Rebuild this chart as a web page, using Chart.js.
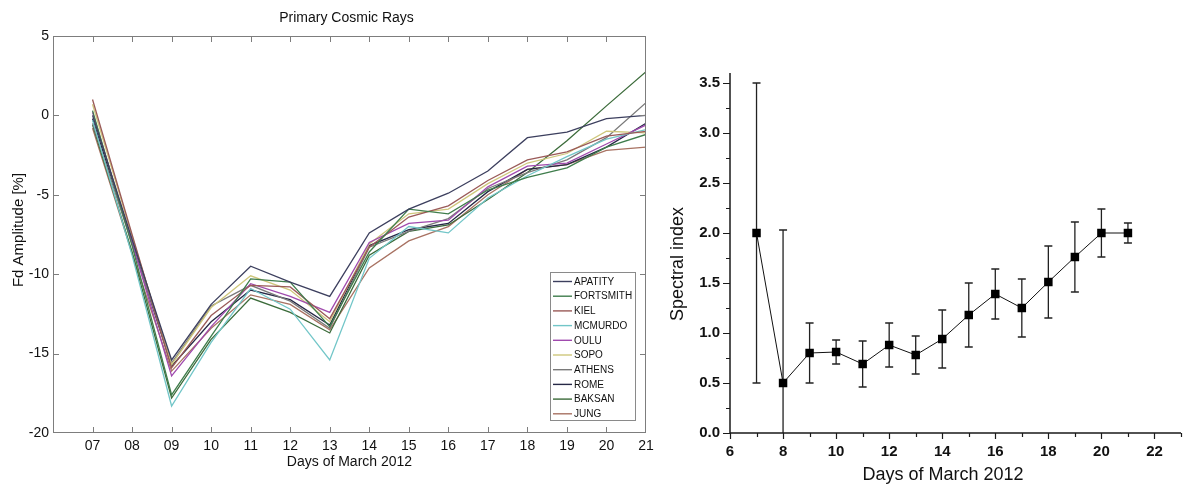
<!DOCTYPE html>
<html>
<head>
<meta charset="utf-8">
<title>Primary Cosmic Rays / Spectral index</title>
<script src="https://cdn.jsdelivr.net/npm/chart.js@4"></script>
<style>
  html, body { margin: 0; padding: 0; background: #fff; }
  body { width: 1187px; height: 488px; position: relative; overflow: hidden; }
  .panel { position: absolute; top: 0; height: 488px; }
  #leftPanel { left: 0; width: 660px; }
  #rightPanel { left: 660px; width: 527px; }
</style>
</head>
<body>
<div class="panel" id="leftPanel"><canvas id="fdChart"></canvas></div>
<div class="panel" id="rightPanel"><canvas id="spectralChart"></canvas></div>
<script>
// ---- Left panel data: Fd amplitude [%] per station, days 07..21 of March 2012
const days = [7, 8, 9, 10, 11, 12, 13, 14, 15, 16, 17, 18, 19, 20, 21];
const stations = ['APATITY', 'FORTSMITH', 'KIEL', 'MCMURDO', 'OULU', 'SOPO', 'ATHENS', 'ROME', 'BAKSAN', 'JUNG'];

const apatity   = [0.0, -7.8, -15.4, -11.9, -9.5, -10.5, -11.4, -7.4, -5.9, -4.9, -3.5, -1.4, -1.05, -0.2, 0.0];
const fortsmith = [0.3, -8.2, -17.6, -13.9, -10.3, -10.5, -13.3, -8.6, -5.9, -6.2, -4.7, -3.9, -3.3, -2.0, -1.2];
const kiel      = [1.0, -7.5, -15.9, -12.6, -10.7, -10.8, -12.8, -8.3, -6.4, -5.7, -4.1, -2.8, -2.3, -1.3, -1.0];
const mcmurdo   = [-0.3, -8.8, -18.3, -14.3, -10.9, -12.2, -15.4, -9.0, -7.0, -7.4, -5.2, -3.8, -2.6, -1.5, -0.9];
const oulu      = [0.2, -8.0, -16.4, -13.3, -10.6, -11.4, -12.4, -8.0, -6.8, -6.6, -4.5, -3.2, -3.0, -1.8, -0.6];
const sopo      = [0.7, -7.6, -15.7, -12.1, -10.1, -11.0, -13.0, -8.1, -6.2, -5.9, -4.3, -3.0, -2.4, -1.0, -1.1];
const athens    = [-0.5, -8.1, -15.6, -12.0, -10.7, -11.7, -13.4, -8.3, -7.3, -6.5, -4.6, -3.6, -2.8, -1.4, 0.8];
const rome      = [-0.2, -8.0, -15.8, -13.0, -11.0, -11.6, -13.2, -8.2, -7.2, -6.8, -4.8, -3.4, -3.1, -2.0, -0.5];
const baksan    = [-0.6, -8.6, -17.8, -14.1, -11.5, -12.4, -13.7, -8.8, -7.3, -6.9, -5.3, -3.6, -1.6, 0.6, 2.75];
const jung      = [-0.8, -8.7, -16.1, -13.4, -11.3, -11.9, -13.5, -9.6, -7.9, -7.0, -5.0, -3.4, -3.1, -2.2, -2.0];

const fdSeries = [apatity, fortsmith, kiel, mcmurdo, oulu, sopo, athens, rome, baksan, jung];
const fdXTicks = [7, 8, 9, 10, 11, 12, 13, 14, 15, 16, 17, 18, 19, 20, 21];
const fdYTicks = [-20, -15, -10, -5, 0, 5];

// ---- Right panel data: spectral index with symmetric errors
const spectralDays  = [7, 8, 9, 10, 11, 12, 13, 14, 15, 16, 17, 18, 19, 20, 21];
const spectralIndex = [2.00, 0.50, 0.80, 0.81, 0.69, 0.88, 0.78, 0.94, 1.18, 1.39, 1.25, 1.51, 1.76, 2.00, 2.00];
const spectralError = [1.50, 1.53, 0.30, 0.12, 0.23, 0.22, 0.19, 0.29, 0.32, 0.25, 0.29, 0.36, 0.35, 0.24, 0.10];
const spXMajor = [6, 8, 10, 12, 14, 16, 18, 20, 22];
const spYMajor = [0, 0.5, 1, 1.5, 2, 2.5, 3, 3.5];

// station colours (styling only)
const stationColors = ['#3c3f5e', '#3f7d4c', '#9a5a58', '#72c6c8', '#a04aae', '#cfc77c', '#7a7a7a', '#262846', '#3b6b3a', '#a87262'];

const FONT = '"Liberation Sans", Arial, Helvetica, sans-serif';

/**
 * Frame, inward ticks, legend and texts of the left panel
 */
const fdDecor = {
    id: 'fdDecor',
    afterDraw(chart) {
        const { ctx, chartArea: a, scales: { x, y } } = chart;
        ctx.save();
        ctx.strokeStyle = '#7d7d7d';
        ctx.lineWidth = 1;
        ctx.strokeRect(a.left + 0.5, a.top + 0.5, a.right - a.left - 1, a.bottom - a.top - 1);

        ctx.beginPath();
        fdXTicks.forEach(v => {
            if (v === 21) return;
            const px = Math.round(x.getPixelForValue(v)) + 0.5;
            ctx.moveTo(px, a.top); ctx.lineTo(px, a.top + 6);
            ctx.moveTo(px, a.bottom); ctx.lineTo(px, a.bottom - 6);
        });
        fdYTicks.forEach(v => {
            if (v === -20 || v === 5) return;
            const py = Math.round(y.getPixelForValue(v)) + 0.5;
            ctx.moveTo(a.left, py); ctx.lineTo(a.left + 6, py);
            ctx.moveTo(a.right, py); ctx.lineTo(a.right - 6, py);
        });
        ctx.stroke();

        // legend box
        const bw = 85, bh = 148;
        const bx = a.right - 11 - bw, by = a.bottom - 13 - bh;
        ctx.fillStyle = '#fff';
        ctx.fillRect(bx, by, bw, bh);
        ctx.strokeStyle = '#8a8a8a';
        ctx.strokeRect(bx + 0.5, by + 0.5, bw, bh);
        ctx.font = '10px ' + FONT;
        ctx.textBaseline = 'middle';
        ctx.textAlign = 'left';
        chart.data.datasets.forEach((ds, i) => {
            const ly = by + 9.5 + i * 14.7;
            ctx.strokeStyle = ds.borderColor;
            ctx.lineWidth = 1.4;
            ctx.beginPath();
            ctx.moveTo(bx + 3, ly); ctx.lineTo(bx + 22, ly);
            ctx.stroke();
            ctx.fillStyle = '#111';
            ctx.fillText(ds.label, bx + 24, ly + 0.5);
        });

        // titles
        ctx.fillStyle = '#111';
        ctx.textAlign = 'center';
        ctx.font = '14px ' + FONT;
        ctx.fillText('Primary Cosmic Rays', (a.left + a.right) / 2 - 3, 18);
        ctx.fillText('Days of March 2012', (a.left + a.right) / 2, 462);
        ctx.font = '15px ' + FONT;
        ctx.translate(19, 230);
        ctx.rotate(-Math.PI / 2);
        ctx.fillText('Fd Amplitude [%]', 0, 0);
        ctx.restore();
    }
};

/**
 * Axes, outward ticks, error bars and texts of the right panel
 */
const spectralDecor = {
    id: 'spectralDecor',
    beforeDatasetsDraw(chart) {
        const { ctx, chartArea: a, scales: { x, y } } = chart;
        ctx.save();
        ctx.strokeStyle = '#222';
        ctx.lineWidth = 1.3;
        spectralDays.forEach((d, i) => {
            const px = x.getPixelForValue(d);
            const hi = y.getPixelForValue(spectralIndex[i] + spectralError[i]);
            const loRaw = y.getPixelForValue(spectralIndex[i] - spectralError[i]);
            const lo = Math.min(loRaw, a.bottom);
            ctx.beginPath();
            ctx.moveTo(px, hi); ctx.lineTo(px, lo);
            ctx.moveTo(px - 4, hi); ctx.lineTo(px + 4, hi);
            if (loRaw <= a.bottom) { ctx.moveTo(px - 4, lo); ctx.lineTo(px + 4, lo); }
            ctx.stroke();
        });
        ctx.restore();
    },
    afterDraw(chart) {
        const { ctx, chartArea: a, scales: { x, y } } = chart;
        ctx.save();
        ctx.strokeStyle = '#1a1a1a';
        ctx.lineWidth = 1.5;
        ctx.beginPath();
        ctx.moveTo(a.left, a.top); ctx.lineTo(a.left, a.bottom);
        ctx.lineTo(a.right, a.bottom);
        ctx.stroke();

        ctx.lineWidth = 1.2;
        ctx.beginPath();
        for (let v = 6; v <= 23; v++) {
            const px = Math.round(x.getPixelForValue(v)) + 0.5;
            const len = spXMajor.includes(v) ? 6 : 4;
            ctx.moveTo(px, a.bottom); ctx.lineTo(px, a.bottom + len);
        }
        for (let k = 0; k <= 14; k++) {
            const v = k * 0.25;
            const py = Math.round(y.getPixelForValue(v)) + 0.5;
            const len = spYMajor.includes(v) ? 7 : 4;
            ctx.moveTo(a.left, py); ctx.lineTo(a.left - len, py);
        }
        ctx.stroke();

        ctx.fillStyle = '#111';
        ctx.textAlign = 'center';
        ctx.textBaseline = 'middle';
        ctx.font = '18px ' + FONT;
        ctx.fillText('Days of March 2012', 943 - 660, 475);
        ctx.translate(18, 264);
        ctx.rotate(-Math.PI / 2);
        ctx.fillText('Spectral index', 0, 0);
        ctx.restore();
    }
};

function init() {
    Chart.defaults.font.family = FONT;

    new Chart(document.getElementById('fdChart'), {
        type: 'line',
        data: {
            datasets: stations.map((name, i) => ({
                label: name,
                data: days.map((d, j) => ({ x: d, y: fdSeries[i][j] })),
                borderColor: stationColors[i],
                borderWidth: 1.3,
                pointRadius: 0,
                tension: 0,
                fill: false
            }))
        },
        options: {
            responsive: true,
            maintainAspectRatio: false,
            animation: false,
            devicePixelRatio: 1,
            layout: { padding: { top: 36, right: 14, bottom: 0, left: 0 } },
            plugins: { legend: { display: false }, tooltip: { enabled: false } },
            scales: {
                x: {
                    type: 'linear',
                    min: 6,
                    max: 21,
                    grid: { display: false, drawTicks: false },
                    border: { display: false },
                    afterBuildTicks: s => { s.ticks = fdXTicks.map(v => ({ value: v })); },
                    afterFit: s => { s.height = 55; },
                    ticks: {
                        padding: 5,
                        maxRotation: 0,
                        autoSkip: false,
                        color: '#111',
                        font: { size: 14 },
                        callback: v => String(v).padStart(2, '0')
                    }
                },
                y: {
                    min: -20,
                    max: 5,
                    grid: { display: false, drawTicks: false },
                    border: { display: false },
                    afterBuildTicks: s => { s.ticks = fdYTicks.map(v => ({ value: v })); },
                    afterFit: s => { s.width = 53; },
                    ticks: { padding: 4, color: '#111', font: { size: 14 } }
                }
            }
        },
        plugins: [fdDecor]
    });

    new Chart(document.getElementById('spectralChart'), {
        type: 'line',
        data: {
            datasets: [{
                label: 'Spectral index',
                data: spectralDays.map((d, i) => ({ x: d, y: spectralIndex[i] })),
                borderColor: '#111',
                borderWidth: 1,
                pointStyle: 'rect',
                pointRadius: 6,
                pointBackgroundColor: '#000',
                pointBorderWidth: 0,
                tension: 0
            }]
        },
        options: {
            responsive: true,
            maintainAspectRatio: false,
            animation: false,
            devicePixelRatio: 1,
            layout: { padding: { top: 73, right: 0, bottom: 0, left: 0 } },
            plugins: { legend: { display: false }, tooltip: { enabled: false } },
            scales: {
                x: {
                    type: 'linear',
                    min: 6,
                    max: 23,
                    grid: { display: false, drawTicks: false },
                    border: { display: false },
                    afterBuildTicks: s => { s.ticks = spXMajor.map(v => ({ value: v })); },
                    afterFit: s => { s.height = 55; },
                    ticks: { padding: 10, maxRotation: 0, autoSkip: false, color: '#111', font: { size: 15, weight: 'bold' } }
                },
                y: {
                    min: 0,
                    max: 3.6,
                    grid: { display: false, drawTicks: false },
                    border: { display: false },
                    afterBuildTicks: s => { s.ticks = spYMajor.map(v => ({ value: v })); },
                    afterFit: s => { s.width = 70; },
                    ticks: {
                        padding: 10,
                        color: '#111',
                        font: { size: 15, weight: 'bold' },
                        callback: v => v.toFixed(1)
                    }
                }
            }
        },
        plugins: [spectralDecor]
    });
}

document.addEventListener('DOMContentLoaded', init);
</script>
</body>
</html>
